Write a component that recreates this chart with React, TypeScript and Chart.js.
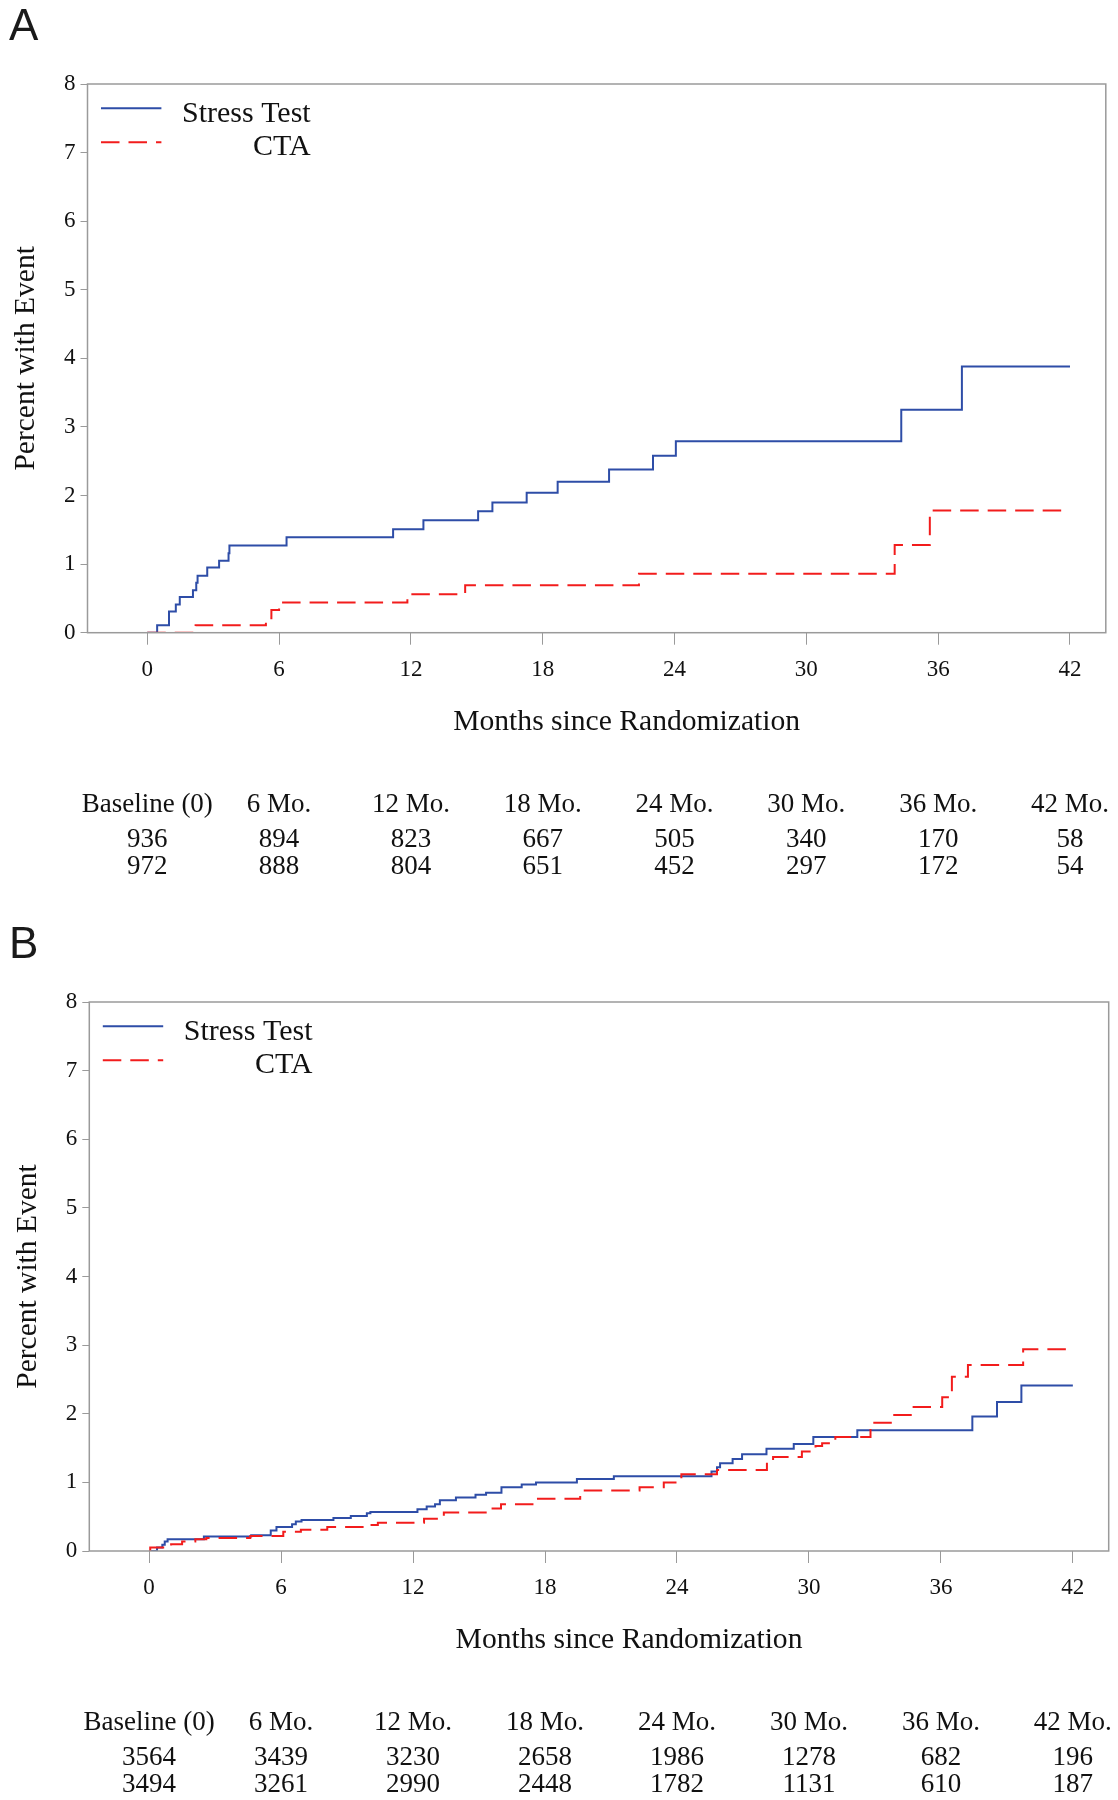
import React, { useEffect, useRef } from "react";
import { Chart, registerables } from "chart.js";

Chart.register(...registerables);

// ---------- shared labels ----------
const xTickValues = [0, 6, 12, 18, 24, 30, 36, 42];
const yTickValues = [0, 1, 2, 3, 4, 5, 6, 7, 8];
const riskHeaders = ["Baseline (0)", "6 Mo.", "12 Mo.", "18 Mo.", "24 Mo.", "30 Mo.", "36 Mo.", "42 Mo."];
const seriesNames = ["Stress Test", "CTA"];
const xTitle = "Months since Randomization";
const yTitle = "Percent with Event";

// ---------- Panel A ----------
const aStressMonths = [0, 0.45, 0.99, 1.3, 1.48, 2.08, 2.23, 2.29, 2.73, 3.27, 3.7, 3.74, 6.34, 11.19, 12.57, 15.06, 15.71, 17.27, 18.68, 21.02, 23.02, 24.06, 34.32, 37.08, 42];
const aStressPct = [0, 0.11, 0.31, 0.41, 0.52, 0.62, 0.73, 0.83, 0.95, 1.05, 1.16, 1.27, 1.39, 1.51, 1.64, 1.77, 1.9, 2.04, 2.2, 2.38, 2.58, 2.79, 3.25, 3.88, 3.88];
const aCtaMonths = [0, 2.2, 5.4, 5.65, 6.0, 11.84, 14.47, 22.38, 34.02, 35.62, 42];
const aCtaPct = [0, 0.11, 0.21, 0.33, 0.44, 0.56, 0.69, 0.86, 1.28, 1.78, 1.78];
const aRiskStress = [936, 894, 823, 667, 505, 340, 170, 58];
const aRiskCta = [972, 888, 804, 651, 452, 297, 172, 54];

// ---------- Panel B ----------
const bStressMonths = [0, 0.36, 0.6, 0.71, 0.84, 2.49, 4.64, 5.53, 5.79, 6.5, 6.67, 6.93, 8.38, 9.17, 9.9, 10.06, 12.2, 12.62, 13.0, 13.22, 13.95, 14.84, 15.32, 16.02, 16.94, 17.59, 19.45, 21.13, 25.57, 25.82, 25.96, 26.53, 26.96, 28.07, 29.31, 30.2, 32.2, 37.43, 38.55, 39.66, 42];
const bStressPct = [0, 0.05, 0.09, 0.14, 0.17, 0.21, 0.23, 0.3, 0.35, 0.39, 0.43, 0.45, 0.48, 0.51, 0.55, 0.57, 0.61, 0.65, 0.68, 0.74, 0.78, 0.82, 0.85, 0.93, 0.97, 1.0, 1.05, 1.09, 1.16, 1.22, 1.28, 1.34, 1.41, 1.49, 1.56, 1.66, 1.76, 1.96, 2.17, 2.41, 2.41];
const bCtaMonths = [0, 0.05, 1.0, 1.5, 2.1, 2.6, 4.6, 6.1, 6.9, 8.1, 9.9, 10.4, 12.5, 13.4, 15.5, 16.0, 17.6, 19.6, 22.3, 23.4, 24.2, 25.82, 28.09, 28.37, 29.68, 30.3, 30.6, 31.2, 32.8, 33.8, 34.76, 36.06, 36.5, 37.23, 39.74, 42];
const bCtaPct = [0, 0.05, 0.1, 0.14, 0.17, 0.19, 0.22, 0.28, 0.31, 0.35, 0.38, 0.41, 0.47, 0.56, 0.62, 0.68, 0.76, 0.88, 0.93, 1.0, 1.12, 1.18, 1.3, 1.37, 1.45, 1.53, 1.57, 1.66, 1.87, 1.98, 2.1, 2.24, 2.54, 2.71, 2.94, 2.94];
const bRiskStress = [3564, 3439, 3230, 2658, 1986, 1278, 682, 196];
const bRiskCta = [3494, 3261, 2990, 2448, 1782, 1131, 610, 187];

// ---------- styles ----------
const SERIF = '"Liberation Serif", "Times New Roman", serif';
const SANS = '"Liberation Sans", Arial, sans-serif';
const BLUE = "#2E4DA7";
const RED = "#F21C1C";
const GRAY = "#9a9a9a";
const TEXT = "#111";
const X_MIN = -2.72;
const X_MAX = 43.63;
const CANVAS_W = 1118;

type PanelProps = {
  label: string;
  stressX: number[];
  stressY: number[];
  ctaX: number[];
  ctaY: number[];
  riskStress: number[];
  riskCta: number[];
  height: number;
  plotLeft: number;
  plotRight: number;
  plotTop: number;
  plotBottom: number;
};

function KMPanel(props: PanelProps) {
  const ref = useRef<HTMLCanvasElement | null>(null);
  useEffect(() => {
    const canvas = ref.current;
    if (!canvas) return;
    const p = props;
    const overlay = {
      id: "kmOverlay",
      afterDraw(chart: any) {
        const ctx = chart.ctx as CanvasRenderingContext2D;
        const { left, right, top, bottom } = chart.chartArea;
        const xs = chart.scales.x;
        ctx.save();
        // frame
        ctx.strokeStyle = GRAY;
        ctx.lineWidth = 1.5;
        ctx.strokeRect(left, top, right - left, bottom - top);

        // panel label
        ctx.fillStyle = "#1a1a1a";
        ctx.font = `44px ${SANS}`;
        ctx.textAlign = "left";
        ctx.textBaseline = "alphabetic";
        ctx.fillText(p.label, 9, 39.5);

        // legend
        const lx0 = left + 13.5;
        const lx1 = left + 73.9;
        const textRight = left + 223.2;
        ctx.lineWidth = 2;
        ctx.strokeStyle = BLUE;
        ctx.setLineDash([]);
        ctx.beginPath();
        ctx.moveTo(lx0, top + 24.3);
        ctx.lineTo(lx1, top + 24.3);
        ctx.stroke();
        ctx.strokeStyle = RED;
        ctx.setLineDash([18.5, 9]);
        ctx.beginPath();
        ctx.moveTo(lx0, top + 58.3);
        ctx.lineTo(lx1, top + 58.3);
        ctx.stroke();
        ctx.setLineDash([]);
        ctx.fillStyle = TEXT;
        ctx.font = `30px ${SERIF}`;
        ctx.textAlign = "right";
        ctx.fillText(seriesNames[0], textRight, top + 37.5);
        ctx.fillText(seriesNames[1], textRight, top + 71);

        // y title
        ctx.save();
        ctx.translate(left - 53.5, (top + bottom) / 2);
        ctx.rotate(-Math.PI / 2);
        ctx.textAlign = "center";
        ctx.font = `29.5px ${SERIF}`;
        ctx.fillText(yTitle, 0, 0);
        ctx.restore();

        // x title
        ctx.textAlign = "center";
        ctx.font = `29.6px ${SERIF}`;
        ctx.fillText(xTitle, xs.getPixelForValue(21.82), bottom + 97.3);

        // number at risk table
        ctx.font = `27px ${SERIF}`;
        xTickValues.forEach((v, i) => {
          const px = xs.getPixelForValue(v);
          ctx.fillText(riskHeaders[i], px, bottom + 179);
          ctx.fillText(String(p.riskStress[i]), px, bottom + 214);
          ctx.fillText(String(p.riskCta[i]), px, bottom + 241.3);
        });
        ctx.restore();
      },
    };

    const chart = new Chart(canvas, {
      type: "line",
      data: {
        datasets: [
          {
            label: seriesNames[0],
            data: p.stressX.map((x, i) => ({ x, y: p.stressY[i] })),
            borderColor: BLUE,
            borderWidth: 2,
            stepped: true,
            pointRadius: 0,
            fill: false,
            order: 1,
          },
          {
            label: seriesNames[1],
            data: p.ctaX.map((x, i) => ({ x, y: p.ctaY[i] })),
            borderColor: RED,
            borderWidth: 2,
            borderDash: [18.5, 9],
            stepped: true,
            pointRadius: 0,
            fill: false,
            order: 0,
          },
        ],
      },
      options: {
        animation: false,
        responsive: false,
        events: [],
        layout: { padding: { left: 0, top: p.plotTop, right: CANVAS_W - p.plotRight, bottom: 0 } },
        plugins: { legend: { display: false }, tooltip: { enabled: false }, title: { display: false } },
        scales: {
          x: {
            type: "linear",
            min: X_MIN,
            max: X_MAX,
            afterBuildTicks: (s: any) => {
              s.ticks = xTickValues.map((v) => ({ value: v }));
            },
            afterFit: (s: any) => {
              s.height = p.height - p.plotBottom;
            },
            grid: { drawOnChartArea: false, drawTicks: true, tickLength: 12, color: GRAY, lineWidth: 1 },
            border: { display: false },
            ticks: {
              font: { family: SERIF, size: 23 },
              color: TEXT,
              padding: 11,
              maxRotation: 0,
              autoSkip: false,
            },
          },
          y: {
            type: "linear",
            min: 0,
            max: 8,
            afterBuildTicks: (s: any) => {
              s.ticks = yTickValues.map((v) => ({ value: v }));
            },
            afterFit: (s: any) => {
              s.width = p.plotLeft;
            },
            grid: { drawOnChartArea: false, drawTicks: true, tickLength: 7, color: GRAY, lineWidth: 1 },
            border: { display: false },
            ticks: { font: { family: SERIF, size: 23 }, color: TEXT, padding: 5 },
          },
        },
      },
      plugins: [overlay],
    } as any);
    return () => chart.destroy();
  }, []);

  return (
    <canvas
      ref={ref}
      width={CANVAS_W}
      height={props.height}
      style={{ display: "block", width: CANVAS_W, height: props.height }}
    />
  );
}

export default function App() {
  useEffect(() => {
    document.body.style.margin = "0";
    document.body.style.background = "#fff";
  }, []);
  return (
    <div style={{ width: CANVAS_W, background: "#fff" }}>
      <KMPanel
        label="A"
        stressX={aStressMonths}
        stressY={aStressPct}
        ctaX={aCtaMonths}
        ctaY={aCtaPct}
        riskStress={aRiskStress}
        riskCta={aRiskCta}
        height={918}
        plotLeft={87.5}
        plotRight={1105.8}
        plotTop={84}
        plotBottom={632.7}
      />
      <KMPanel
        label="B"
        stressX={bStressMonths}
        stressY={bStressPct}
        ctaX={bCtaMonths}
        ctaY={bCtaPct}
        riskStress={bRiskStress}
        riskCta={bRiskCta}
        height={882}
        plotLeft={89.3}
        plotRight={1108.7}
        plotTop={84}
        plotBottom={633}
      />
    </div>
  );
}
